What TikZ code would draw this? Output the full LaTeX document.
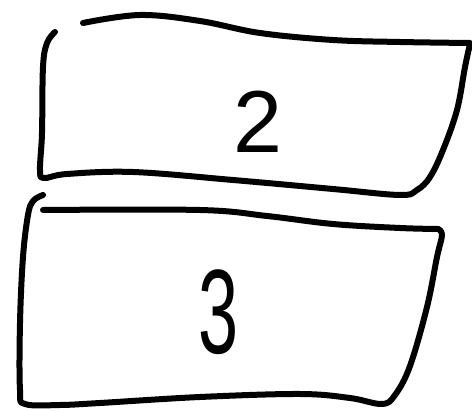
\documentclass[tikz,border=0pt]{standalone}
\usepackage{fontspec}
\setmainfont{Liberation Sans}
\begin{document}
\begin{tikzpicture}[x=1pt,y=-1pt,
  ink/.style={line width=6pt,line cap=round,line join=round,black},
  digit/.style={inner sep=0pt,black}]
\useasboundingbox (0,0) rectangle (472,411);
% top box
\draw[ink] plot[smooth,tension=0.6] coordinates {(55,32) (47,43) (43,67) (42,133) (40,170) (44,178) (67,174) (133,172) (233,180) (333,189) (400,195) (417,190) (430,177) (443,150) (457,110) (465,67) (470,44)};
\draw[ink] plot[smooth,tension=0.6] coordinates {(83,23) (140,15) (200,21) (260,33) (333,40) (400,42) (470,43)};
\node[digit,font=\fontsize{88}{88}\selectfont] (two) at (258,122) {2};
% bottom box
\draw[ink] plot[smooth,tension=0.6] coordinates {(43,195) (33,201) (28,215) (23,257) (20,323) (20,390) (25,404) (60,405) (100,403) (200,397) (300,394) (350,398) (382,404) (395,395) (410,366) (427,307) (437,257) (442,235) (438,229)};
\draw[ink] plot[smooth,tension=0.6] coordinates {(43,210) (200,210) (267,216) (333,224) (400,228) (438,229)};
\node[digit,font=\fontsize{120}{120}\selectfont,xscale=0.6] (three) at (219,312) {3};
\end{tikzpicture}
\end{document}
